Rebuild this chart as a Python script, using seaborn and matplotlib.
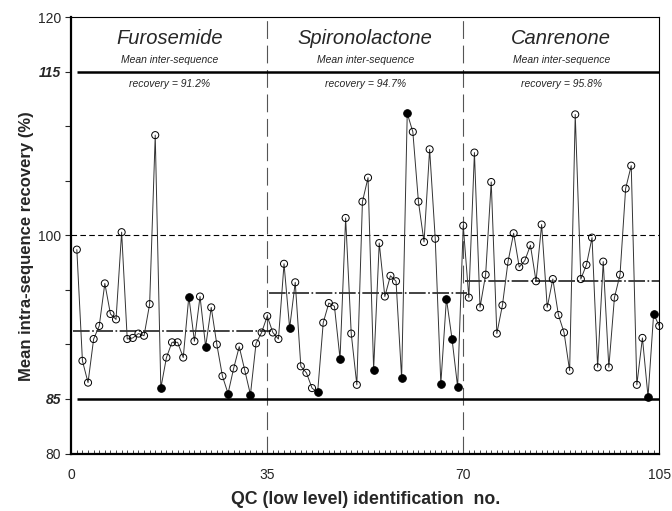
import numpy as np
import pandas as pd
import matplotlib.pyplot as plt
import matplotlib.ticker as mticker
import seaborn as sns

# QC sample no. 1..105 and recovery (%)
qc_no = list(range(1, 106))
recovery = [
    98.7, 88.5, 86.5, 90.5, 91.7, 95.6, 92.8, 92.3, 100.3, 90.5,
    90.6, 91.0, 90.8, 93.7, 109.2, 86.0, 88.8, 90.2, 90.2, 88.8,
    94.4, 90.3, 94.4, 89.8, 93.4, 90.0, 87.1, 85.5, 87.8, 89.8,
    87.6, 85.4, 90.1, 91.1, 92.6,
    91.1, 90.5, 97.4, 91.5, 95.7, 88.0, 87.4, 86.0, 85.6, 92.0,
    93.8, 93.5, 88.7, 101.6, 91.0, 86.3, 103.1, 105.3, 87.7, 99.3,
    94.4, 96.3, 95.8, 86.9, 111.2, 109.5, 103.1, 99.4, 107.9, 99.7,
    86.4, 94.2, 90.5, 86.1, 100.9,
    94.3, 107.6, 93.4, 96.4, 104.9, 91.0, 93.6, 97.6, 100.2, 97.1,
    97.7, 99.1, 95.8, 101.0, 93.4, 96.0, 92.7, 91.1, 87.6, 111.1,
    96.0, 97.3, 99.8, 87.9, 97.6, 87.9, 94.3, 96.4, 104.3, 106.4,
    86.3, 90.6, 85.2, 92.8, 91.7,
]
# QCs shown with filled symbols
filled_qc = [16, 21, 24, 28, 32, 39, 44, 48, 54, 59, 60, 66, 67, 68, 69, 103, 104]

compounds = ['Furosemide', 'Spironolactone', 'Canrenone']
inter_mean = [91.2, 94.7, 95.8]
block_edges = [0, 35, 70, 105]
y_labels = ['80', '85', '100', '115', '120']

df = pd.DataFrame({'qc': qc_no, 'recovery': recovery})
df['filled'] = df['qc'].isin(filled_qc)

sns.set_theme(style='white')
plt.rcParams['font.family'] = ['Liberation Sans', 'DejaVu Sans']

fig = plt.figure(figsize=(6.72, 5.11), dpi=100)
ax = fig.add_axes([0.106, 0.1125, 0.875, 0.8535])

# acceptance limits and nominal
ax.hlines([85, 115], 1, 105, color='black', lw=1.8, zorder=2)
ax.hlines(100, 0, 105, color='black', lw=0.8, linestyle=(0, (5, 3)), zorder=2)

# block separators
for xb in block_edges[1:3]:
    ax.axvline(xb, color='#555555', lw=0.8, linestyle=(0, (16, 6)), zorder=1)

# inter-sequence means
for i, m in enumerate(inter_mean):
    x0 = block_edges[i] + 0.3
    x1 = min(block_edges[i + 1] + 0.6, 105)
    ax.hlines(m, x0, x1, color='#222222', lw=1.2,
              linestyle=(0, (10, 1.5, 1, 1.5)), zorder=2)

sns.lineplot(data=df, x='qc', y='recovery', ax=ax, color='#333333', lw=0.7,
             zorder=3, clip_on=False)
sns.scatterplot(data=df[~df['filled']], x='qc', y='recovery', ax=ax,
                marker='o', s=26, facecolor='none', edgecolor='black',
                linewidth=0.7, zorder=4, clip_on=False)
sns.scatterplot(data=df[df['filled']], x='qc', y='recovery', ax=ax,
                marker='o', s=30, color='black', edgecolor='black',
                linewidth=0.7, zorder=5, clip_on=False)

for i, name in enumerate(compounds):
    xc = (block_edges[i] + block_edges[i + 1]) / 2
    ax.text(xc, 118.1, name, ha='center', va='center', fontsize=14.5,
            style='italic')
    ax.text(xc, 116.1, 'Mean inter-sequence', ha='center', va='center',
            fontsize=7.5, style='italic')
    ax.text(xc, 113.9, f'recovery = {inter_mean[i]}%', ha='center',
            va='center', fontsize=7.5, style='italic')

ax.set_xlim(0, 105)
ax.set_ylim(80, 120)
ax.xaxis.set_major_locator(mticker.FixedLocator(block_edges))
ax.xaxis.set_minor_locator(mticker.MultipleLocator(1))
ax.set_yticks([int(v) for v in y_labels])
ax.set_yticklabels(y_labels)
ax.yaxis.set_minor_locator(mticker.FixedLocator([90, 95, 105, 110]))
ax.tick_params(axis='x', which='major', direction='inout', length=5,
               width=0.8, labelsize=10, pad=8)
ax.tick_params(axis='x', which='minor', direction='in', length=3, width=0.6,
               bottom=True)
ax.tick_params(axis='y', which='both', direction='out', length=4, width=0.8,
               labelsize=10, left=True)
for lab in ax.get_yticklabels():
    if lab.get_text() in ('85', '115'):
        lab.set_fontweight('bold')
        lab.set_fontstyle('italic')

for sp in ax.spines.values():
    sp.set_color('black')
    sp.set_linewidth(0.8)
ax.spines['left'].set_linewidth(1.6)
ax.spines['bottom'].set_linewidth(1.6)

ax.set_xlabel('QC (low level) identification  no.', fontsize=12.8,
              fontweight='bold')
ax.set_ylabel('Mean intra-sequence recovery (%)', fontsize=12,
              fontweight='bold')
ax.xaxis.set_label_coords(0.5, -0.085)
ax.yaxis.set_label_coords(-0.064, 0.476)

fig.savefig('out.png', dpi=100)
